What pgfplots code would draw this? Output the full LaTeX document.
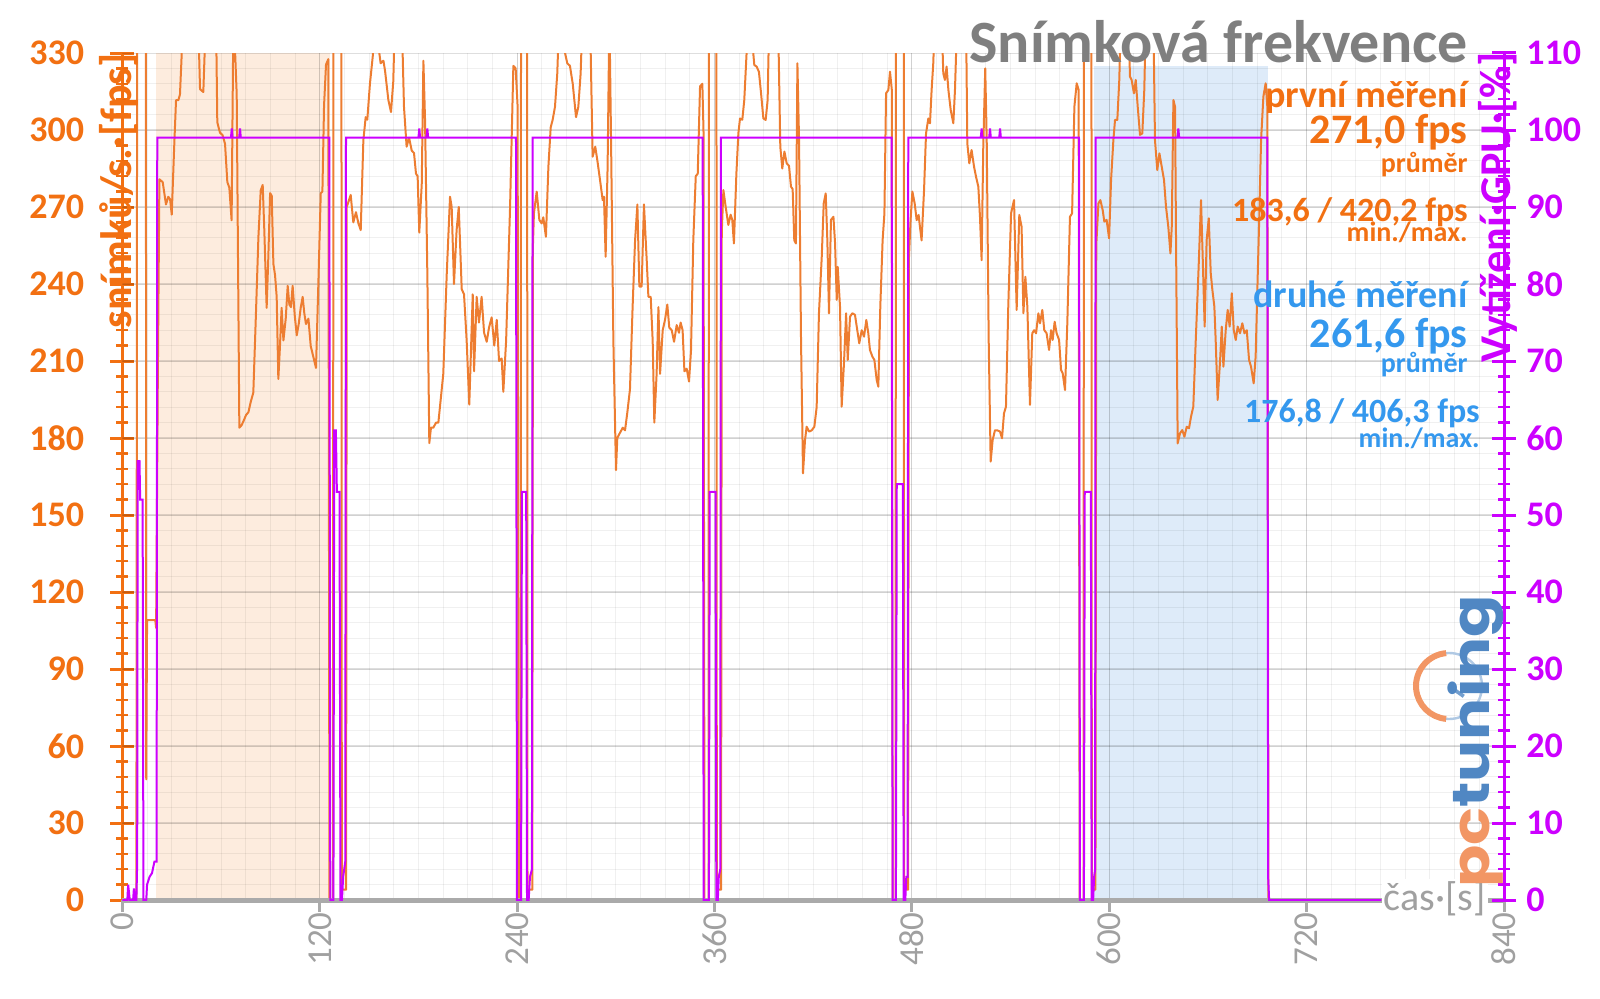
\documentclass[border=0pt]{standalone}
\usepackage{fontspec}
\setmainfont{Carlito}
\newfontfamily\logofont{Poppins}
\usepackage{pgfplots}
\pgfplotsset{compat=1.18}
\definecolor{fpsline}{RGB}{237,125,49}
\definecolor{fpsaxis}{RGB}{242,112,18}
\definecolor{gpu}{RGB}{204,0,255}
\definecolor{titlegray}{RGB}{127,127,127}
\definecolor{axisgray}{RGB}{170,170,170}
\definecolor{tickgray}{RGB}{160,160,160}
\definecolor{blueann}{RGB}{52,152,238}
\definecolor{bandorange}{RGB}{253,236,222}
\definecolor{bandblue}{RGB}{222,235,249}
\definecolor{pcorange}{RGB}{242,150,100}
\definecolor{pcblue}{RGB}{80,135,195}
\pgfplotsset{
  base/.style={at={(61.2pt,49pt)}, anchor=south west, scale only axis,
    width=690.8pt, height=423.5pt, xmin=0, xmax=840,
    /pgf/number format/assume math mode=true},
}
\begin{document}
\begin{tikzpicture}
% ---------------- FPS axis ----------------
\begin{axis}[base, ymin=0, ymax=330, axis x line=none, axis y line*=left,
  ytick={0,30,...,330}, minor y tick num=4, tick align=center,
  major tick length=12pt, minor tick length=6pt,
  y axis line style={draw=fpsaxis, line width=1.5pt, -},
  major tick style={draw=fpsaxis, line width=1.5pt},
  minor tick style={draw=fpsaxis, line width=1.2pt},
  yticklabel style={font=\bfseries\fontsize{18}{18}\selectfont, text=fpsaxis, anchor=east, inner sep=0pt, xshift=-13pt}]
\addplot[draw=none, fill=bandorange] coordinates {(20.5,0) (20.5,330) (126,330) (126,0)} -- cycle;
\addplot[draw=none, fill=bandblue] coordinates {(591,0) (591,325) (696.5,325) (696.5,0)} -- cycle;
\pgfplotsinvokeforeach{15,30,...,825}{\draw[black, opacity=0.06, line width=0.5pt] (axis cs:#1,0) -- (axis cs:#1,330);}
\pgfplotsinvokeforeach{6,12,...,324}{\draw[black, opacity=0.06, line width=0.5pt] (axis cs:0,#1) -- (axis cs:840,#1);}
\pgfplotsinvokeforeach{120,240,...,720}{\draw[black, opacity=0.13, line width=0.6pt] (axis cs:#1,0) -- (axis cs:#1,330);}
\pgfplotsinvokeforeach{30,60,...,330}{\draw[black, opacity=0.13, line width=0.6pt] (axis cs:0,#1) -- (axis cs:840,#1);}
\addplot[fpsline, line width=1pt, line join=round] coordinates {
(0,0) (8.5,0) (9.1,450) (14.2,450) (14.5,47) (15,109) (20,109) (20.5,106) (21.5,200) (22.5,280.8) (24.5,279.7) (26.5,271) (27.9,274) (29,273) (30.0,267) (31.4,292) (32.6,311.6) (34,311.6) (35,313.8) (36,328.7) (37,345) (46,345) (47.2,315.9) (49.2,314.8) (50.8,345) (56.9,345) (57.7,303) (59.3,299) (60.9,298) (62.4,294.6) (63.8,279.7) (65,277.6) (66.4,264.8) (67.5,345) (68.5,330.8) (69.5,313.8) (71.1,184) (72.5,185) (73.9,187) (75.2,189) (76.6,190) (78,194) (79.6,197.7) (81.2,228.6) (82.7,258.4) (84.1,276.5) (85.3,278.6) (86.3,260.6) (87.7,230.7) (88.7,250) (89.8,275.4) (90.8,274.4) (91.8,247.8) (92.8,243.5) (93.8,235) (94.8,203) (95.8,215.8) (96.8,230.7) (97.9,218) (99.3,226.5) (100.5,239.3) (101.5,232) (102.5,231) (103.5,239.3) (104.8,227.6) (106,220) (107.2,224.4) (108.4,230.7) (109.6,235) (110.6,228.6) (111.6,224.4) (113.1,226.5) (114.5,215.8) (116.1,211.6) (117.7,207.3) (119.1,239.3) (120.6,275.4) (121.6,276) (122.6,309.5) (123.8,325.5) (125.2,327.6) (125.9,0) (128.1,0) (128.3,450) (133.1,450) (133.4,4) (135.8,4)
(136.0,4) (136.4,270) (138.8,274.7) (140.4,264) (142.0,268) (143.5,263.6) (144.9,261) (146.5,296) (147.9,305) (148.9,304) (150.5,318) (152.2,328.6) (153.6,345) (155.8,345) (156.2,330) (157.0,326) (158.7,327) (159.7,323) (161.7,311.7) (163.3,307) (164.7,319) (165.7,345) (169.8,345) (171.2,309) (172.8,293.5) (174.3,297) (175.9,292) (177.3,291) (178.5,283) (179.5,282) (180.5,260) (182.0,279) (183.0,327) (184.0,304) (185.4,244) (186.6,178) (187.6,184) (189.0,184) (190.7,186) (192.1,186) (195.1,205) (197.2,244) (199.2,274) (200.2,270) (201.6,240) (203.2,261) (204.5,270) (206.3,238) (207.7,236) (209.3,218) (210.9,193) (213.0,236) (213.8,206) (215.4,235) (216.8,225) (218.4,235) (219.9,221) (221.5,217.5) (222.9,223) (224.5,227) (226.1,216) (227.6,226) (229.0,210) (230.6,211) (231.6,198) (233.3,218) (235.7,270) (237.7,325) (239.1,324) (240.3,309) (240.9,0) (242.2,0) (242.4,450) (246.0,450) (246.3,4) (249.2,4)
(249.6,255) (250.2,267.5) (251.9,276) (253.5,265) (254.9,263.6) (255.9,266) (257.5,258.4) (259.0,285.7) (260.4,301) (261.6,304) (263.0,309) (264.4,322) (265.6,345) (268.9,345) (269.1,330) (270.5,326) (272.1,325) (273.8,318) (275.8,305) (277.2,309) (278.6,322) (279.8,345) (284.3,345) (285.9,289.6) (287.5,293.5) (288.8,288) (290.4,280.5) (292.0,272.7) (292.8,274) (293.8,250.6) (295.0,285.7) (296.1,345) (297.1,296) (298.5,218) (300.1,167.5) (300.9,180) (302.5,182) (304.2,184) (305.6,183) (307.0,190) (308.6,199) (310.2,231) (311.7,257) (313.1,271) (314.3,239) (315.7,239) (317.1,271) (318.8,249) (319.8,235) (321.2,235) (322.4,218) (323.4,186) (324.8,205) (325.9,231) (326.9,205) (328.5,222) (329.9,226) (331.3,232) (332.5,223) (334.0,222) (335.4,217.5) (337.0,224) (338.4,221) (339.4,225) (340.6,222) (341.7,206) (343.1,207) (344.5,202) (345.7,214) (347.1,257) (348.6,282) (349.8,283) (351.2,317) (352.6,318) (353.3,300) (353.9,0) (356.4,0) (356.6,450) (361.1,450) (361.4,4) (363.8,4)
(364.0,4) (364.4,260) (365.4,276.6) (366.8,270) (368.4,263) (369.8,267) (370.8,265) (371.8,255.8) (373.3,283) (374.5,298.7) (375.5,304.5) (376.9,304) (378.1,311.7) (379.5,330) (380.5,345) (382.5,345) (383.0,334) (384.2,325.3) (385.6,324.7) (387.0,322.7) (388.3,314.3) (389.7,304.5) (391.1,303.9) (392.3,311.7) (393.3,345) (398.6,345) (400,293.5) (401.2,285) (402.5,291.6) (403.9,287) (405.3,286) (406.5,277.9) (407.5,277) (408.5,257) (409.5,255.8) (410.4,326) (411.4,296) (412.6,218) (413.8,166.2) (415,179) (416,184.4) (417.5,182.5) (419.1,183) (420.7,184.4) (422.1,192) (423.5,228.6) (425.2,250.6) (426.4,271.4) (427.6,275.3) (428.6,257) (429.6,228.6) (430.8,265) (432.3,266.2) (433.3,255.8) (434.3,233.8) (434.9,246.7) (436.3,231.2) (437.3,192.2) (438.7,209) (440,228.6) (441,210.4) (442.4,227.3) (443.8,228.6) (445.4,228) (446.8,222) (448,216.9) (449.5,222) (450.9,219.5) (452.3,226) (453.5,220.8) (454.5,214.3) (456,211.7) (457.2,210.4) (458.6,202.6) (459.6,200) (460.8,231.2) (462.2,257) (463.3,267.5) (464.3,314.3) (465.7,315.6) (466.7,322.7) (467.8,315.6) (468.3,0) (470.1,0) (470.3,450) (475.0,450) (475.3,4) (477.7,4)
(478.2,250) (479.2,264.9) (480.3,276) (481.7,271.4) (482.9,264.9) (484.1,266.9) (484.9,262.3) (485.9,257) (487.4,276.6) (488.6,298.7) (490,304.5) (491,302.6) (492,315.6) (493,326) (494,345) (498,345) (499.1,322) (500.1,319.5) (501.1,324.7) (502.2,315.6) (503.6,307.8) (505.2,302.6) (506.2,315.6) (507.6,345) (512.9,345) (513.7,294.8) (514.9,287) (516.3,292.2) (517.8,285.7) (519,281.8) (520.4,277.9) (521.4,266.2) (522.4,249.3) (523.4,293.5) (524.6,324) (525.5,296) (526.7,218) (527.9,170.8) (529.1,179.2) (530.5,183) (531.9,183) (533.6,182.5) (534.8,179.9) (536,189.6) (537.2,192.2) (538.6,231.2) (540.3,267.5) (542.1,272.7) (543.7,229.9) (545.3,266.9) (546.7,262.3) (547.8,228.6) (549,242.8) (550.2,231.2) (551.8,192.9) (553.2,220.8) (554.3,222) (555.5,220.8) (556.9,228.6) (557.9,224.7) (559.3,229.9) (560.5,222) (561.9,220.8) (563.4,214.3) (564.6,222) (565.6,218.2) (566.8,225.3) (568.0,220.8) (569.5,218.2) (570.7,206.5) (571.7,205.2) (573.1,198.7) (574.5,224.7) (576.1,266.2) (577.4,267.5) (578.8,309.1) (580.2,318.2) (581.4,315.6) (582.0,0) (584.4,0) (584.6,450) (589.1,450) (589.4,4) (591.6,4)
(592.1,255) (593.4,271.4) (594.6,272.7) (596,268.8) (597,264.3) (598.4,265) (599.9,257.8) (601.1,280.5) (602.5,296) (603.5,303.9) (604.9,303.9) (606.1,319.5) (607.1,345) (611.6,345) (612.6,320.8) (613.6,319.5) (615,314.3) (616.1,319.5) (617.3,309.1) (618.7,298.1) (620.1,298.7) (621.3,315.6) (622.3,345) (626.8,345) (627.8,296) (629.2,284.4) (630.5,290.9) (631.9,285.7) (633.3,280.5) (634.5,270.1) (635.9,262.3) (637.2,251.9) (638,262.3) (639,311.7) (640,309.1) (640.6,257) (641.6,177.9) (643,181.8) (644.4,183.1) (645.7,180.5) (647.1,184.4) (648.5,183.8) (649.7,188.3) (651.1,192.2) (652.6,218.2) (654.2,244.2) (655.8,272.7) (656.8,250.6) (658,223.4) (659.2,257) (660.5,265.6) (661.7,244.2) (662.7,237.7) (663.9,231.2) (664.7,218.2) (665.9,194.8) (667.4,210.4) (668.4,223.4) (669.4,207.8) (670.8,222) (672,229.9) (673.2,223.4) (674.5,236.4) (675.7,222) (676.9,218.2) (678.1,223.4) (679.5,220.8) (680.9,224.7) (682.2,220.8) (683.6,222) (685,210.4) (686.2,207.8) (687.8,201.3) (689,211.7) (690.3,244.2) (691.1,263.6) (692.3,296) (693.7,313) (695.1,318.2) (696.1,309.1) (696.8,0)
};
\end{axis}
% ---------------- x axis ----------------
\begin{axis}[base, ymin=0, ymax=330, axis y line=none, axis x line*=bottom,
  xtick={0,120,...,840}, tick align=outside, major tick length=6pt,
  x axis line style={draw=axisgray, line width=2.5pt, -},
  major tick style={draw=axisgray, line width=1.5pt},
  xticklabel style={rotate=90, anchor=east, inner sep=0pt, font=\fontsize{17.5}{17.5}\selectfont, text=tickgray}]
\addplot[draw=none] coordinates {(0,0)};
\end{axis}
% ---------------- GPU axis ----------------
\begin{axis}[base, ymin=0, ymax=110, axis x line=none, axis y line*=right,
  ytick={0,10,...,110}, minor y tick num=4, tick align=center,
  major tick length=12pt, minor tick length=6pt,
  y axis line style={draw=gpu, line width=1.5pt, -},
  major tick style={draw=gpu, line width=1.5pt},
  minor tick style={draw=gpu, line width=1.2pt},
  yticklabel style={font=\bfseries\fontsize{18}{18}\selectfont, text=gpu, anchor=west, inner sep=0pt, xshift=5pt}]
\addplot[gpu, line width=1pt] coordinates {
(0,0) (3,0) (3.5,2) (4.5,0) (6.5,0) (7,1.5) (7.8,0) (8.5,0) (9,5) (9.3,57) (10.4,57) (10.8,52) (12.3,52) (12.8,0) (14.5,0) (15,2) (16.5,3) (18,3.5) (19.5,5) (20.8,5) (21.2,99) (66,99) (66.5,100.2) (67,99) (71,99) (71.5,100.2) (72,99) (125.8,99) (126.4,0) (128.3,0) (128.8,61) (129.8,61) (130.4,53) (132.0,53) (132.6,0) (133.5,0) (134.2,3) (135.5,5) (135.95,99) (180,99) (180.5,100.2) (181,99) (184.9,99) (185.4,100.2) (185.9,99) (239.3,99) (239.9,0) (242.4,0) (242.9,53) (245.5,53) (246.0,0) (247.0,0) (247.8,3) (249.0,4) (249.4,99) (352.8,99) (353.4,0) (356.6,0) (357.1,53) (360.6,53) (361.1,0) (362.0,0) (362.6,3) (363.5,4) (363.9,99) (467.7,99) (468.3,0) (470.3,0) (470.8,54) (474.5,54) (475.0,0) (476.0,0) (476.6,3) (477.4,3) (477.8,99) (521.9,99) (522.4,100.2) (522.9,99) (527.0,99) (527.5,100.2) (528.0,99) (533.1,99) (533.6,100.2) (534.1,99) (581.6,99) (582.2,0) (584.6,0) (585.1,53) (588.8,53) (589.3,0) (590.2,0) (590.8,3) (591.4,4) (591.7,99) (641.5,99) (642.0,100.2) (642.5,99) (696.1,99) (696.6,3) (697.2,0) (765.5,0)
};
\end{axis}
% ---------------- texts ----------------
\node[rotate=90, anchor=base east, inner sep=0pt, text=fpsaxis, font=\bfseries\fontsize{22}{22}\selectfont] at (65.85pt,472.5pt) {snímků/s.·[fps]};
\node[rotate=90, anchor=base east, inner sep=0pt, text=gpu, font=\bfseries\fontsize{22}{22}\selectfont] at (755.35pt,473pt) {Vytížení·GPU·[\%]};
\node[anchor=base east, inner sep=1pt, fill=white, text=tickgray, font=\fontsize{20}{20}\selectfont] at (744pt,44pt) {čas·[s]};
\node[anchor=base east, inner sep=0pt, text=titlegray, font=\bfseries\fontsize{30}{30}\selectfont] at (734pt,467.5pt) {Snímková frekvence};
\node[anchor=base east, inner sep=0pt, text=fpsaxis, font=\bfseries\fontsize{19}{19}\selectfont] at (734pt,445pt) {první měření};
\node[anchor=base east, inner sep=0pt, text=fpsaxis, font=\bfseries\fontsize{21}{21}\selectfont] at (734pt,427pt) {271,0 fps};
\node[anchor=base east, inner sep=0pt, text=fpsaxis, font=\bfseries\fontsize{14}{14}\selectfont] at (734pt,412.5pt) {průměr};
\node[anchor=base east, inner sep=0pt, text=fpsaxis, font=\bfseries\fontsize{17}{17}\selectfont] at (734pt,388pt) {183,6 / 420,2 fps};
\node[anchor=base east, inner sep=0pt, text=fpsaxis, font=\bfseries\fontsize{14}{14}\selectfont] at (734pt,378pt) {min./max.};
\node[anchor=base east, inner sep=0pt, text=blueann, font=\bfseries\fontsize{19}{19}\selectfont] at (734pt,345pt) {druhé měření};
\node[anchor=base east, inner sep=0pt, text=blueann, font=\bfseries\fontsize{21}{21}\selectfont] at (734pt,325.5pt) {261,6 fps};
\node[anchor=base east, inner sep=0pt, text=blueann, font=\bfseries\fontsize{14}{14}\selectfont] at (734pt,313pt) {průměr};
\node[anchor=base east, inner sep=0pt, text=blueann, font=\bfseries\fontsize{17}{17}\selectfont] at (740pt,288pt) {176,8 / 406,3 fps};
\node[anchor=base east, inner sep=0pt, text=blueann, font=\bfseries\fontsize{14}{14}\selectfont] at (740pt,275.5pt) {min./max.};
% logo
\draw[pcblue!45, line width=1.2pt] (724.5pt,156pt) circle (16.5pt);
\draw[pcorange, line width=3pt] (724.5pt,156pt) ++(95:16.5pt) arc (95:265:16.5pt);
\draw[pcblue!80, line width=1.8pt] (724.5pt,156pt) -- ++(-35:9pt);
\node[rotate=90, xscale=1.2, anchor=base west, inner sep=0pt, font=\logofont\bfseries\fontsize{26}{26}\selectfont] at (744.5pt,55pt) {\textcolor{pcorange}{pc}\textcolor{pcblue}{tuning}};
\pgfresetboundingbox
\path[use as bounding box] (0,0) rectangle (800pt,499pt);
\end{tikzpicture}
\end{document}
